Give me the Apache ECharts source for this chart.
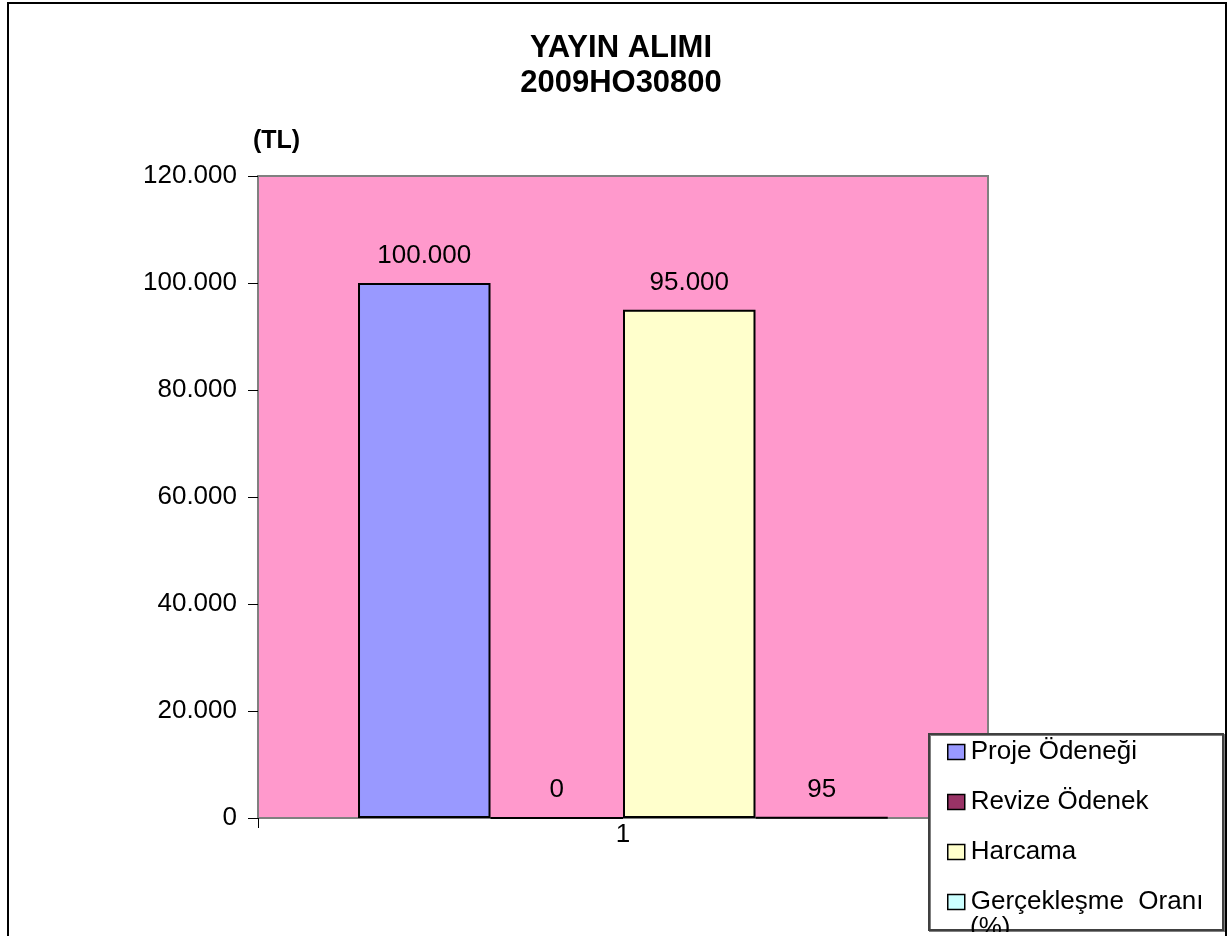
<!DOCTYPE html>
<html>
<head>
<meta charset="utf-8">
<script src="https://cdn.jsdelivr.net/npm/echarts@6/dist/echarts.min.js"></script>
<style>html,body{margin:0;padding:0;background:#fff;}#c{width:1229px;height:936px;}</style>
</head>
<body>
<div id="c"></div>
<script>
var categories = ['1'];
var seriesNames = ['Proje Ödeneği', 'Revize Ödenek', 'Harcama', 'Gerçekleşme  Oranı (%)'];
var projeOdenegi = [100000];
var revizeOdenek = [0];
var harcama = [95000];
var gerceklesmeOrani = [95];
var yTicks = [0, 20000, 40000, 60000, 80000, 100000, 120000];
var colors = ['#9999FF', '#993366', '#FFFFCC', '#CCFFFF'];

var FONT = '"Liberation Sans", Arial, sans-serif';
function fmt(v) { return String(v).replace(/\B(?=(\d{3})+(?!\d))/g, '.'); }

var chart = echarts.init(document.getElementById('c'));
var values = [projeOdenegi, revizeOdenek, harcama, gerceklesmeOrani];
var series = seriesNames.map(function (n, i) {
  return {
    name: n, type: 'bar', data: values[i],
    barGap: '0%', barCategoryGap: '27.4%',
    itemStyle: { color: colors[i], borderColor: '#000', borderWidth: 2 },
    label: { show: true, position: 'top', distance: 14, color: '#000', fontFamily: FONT, fontSize: 26,
      formatter: function (p) { return fmt(p.value); } }
  };
});

chart.setOption({
  animation: false,
  backgroundColor: '#fff',
  textStyle: { fontFamily: FONT },
  title: {
    text: 'YAYIN ALIMI\n2009HO30800', left: 616, top: 26, textAlign: 'center',
    textStyle: { fontFamily: FONT, fontSize: 31, fontWeight: 'bold', color: '#000', lineHeight: 35 }
  },
  grid: { left: 258, top: 176, right: 241, bottom: 118, show: true,
    backgroundColor: '#FF99CC', borderColor: '#808080', borderWidth: 2 },
  legend: {
    orient: 'vertical', left: 947, top: 739, padding: 0, itemGap: 24, itemWidth: 17, itemHeight: 15,
    icon: 'rect', selectedMode: false,
    textStyle: { fontFamily: FONT, fontSize: 26, color: '#000', padding: [0, 0, 0, 1] },
    itemStyle: { borderColor: '#000', borderWidth: 1.5 },
    formatter: function (n) { return n === 'Gerçekleşme  Oranı (%)' ? 'Gerçekleşme  Oranı' : n; },
    data: seriesNames
  },
  xAxis: {
    type: 'category', data: categories,
    axisLine: { lineStyle: { color: '#808080', width: 2 } },
    axisTick: { show: true, length: 10, lineStyle: { color: '#000' } },
    axisLabel: { fontFamily: FONT, fontSize: 26, color: '#000', margin: 4 }
  },
  yAxis: {
    type: 'value', min: 0, max: 120000, interval: 20000,
    axisLine: { show: true, lineStyle: { color: '#808080', width: 2 } },
    axisTick: { show: true, length: 10, lineStyle: { color: '#000' } },
    splitLine: { show: false },
    axisLabel: { fontFamily: FONT, fontSize: 26, color: '#000', margin: 21,
      formatter: function (v) { return yTicks.indexOf(v) >= 0 ? fmt(v) : ''; } }
  },
  graphic: [
    { type: 'rect', z: 10, shape: { x: 8, y: 3, width: 1218, height: 960 },
      style: { fill: 'none', stroke: '#000', lineWidth: 2 } },
    { type: 'text', z: 10, left: 253, top: 129,
      style: { text: '(TL)', fontFamily: FONT, fontSize: 25, fontWeight: 'bold', fill: '#000' } },
    { type: 'rect', z: 3, shape: { x: 929, y: 734, width: 294, height: 196 },
      style: { fill: '#fff', stroke: '#404040', lineWidth: 2, shadowColor: 'rgba(0,0,0,0.5)', shadowOffsetX: 1, shadowOffsetY: 1 } },
    { type: 'text', z: 3, left: 970, top: 915,
      style: { text: '(%)', fontFamily: FONT, fontSize: 26, fill: '#000' } },
    { type: 'rect', z: 20, shape: { x: 930, y: 932, width: 292, height: 10 },
      style: { fill: '#fff' } }
  ],
  series: series
});
</script>
</body>
</html>
